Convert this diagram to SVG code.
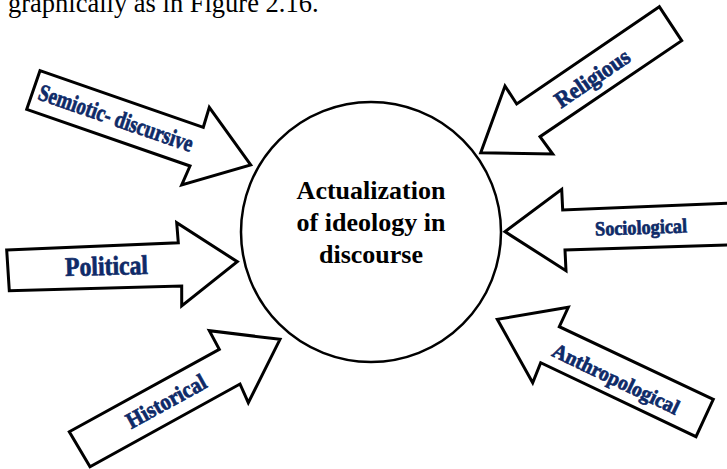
<svg xmlns="http://www.w3.org/2000/svg" width="727" height="469" viewBox="0 0 727 469">
  <style>
    .arrow { fill: #ffffff; stroke: #000000; stroke-width: 3; stroke-linejoin: miter; }
    .label { font-family: "Liberation Serif", "Times New Roman", serif; font-weight: bold; fill: #0e2a68; stroke: #0e2a68; stroke-width: 0.7; text-anchor: middle; }
    .core { font-family: "Liberation Serif", "Times New Roman", serif; font-weight: bold; font-size: 26px; fill: #000000; text-anchor: middle; }
    .body { font-family: "Liberation Serif", "Times New Roman", serif; font-size: 26.5px; fill: #000000; }
  </style>
  <rect width="727" height="469" fill="#ffffff"/>

  <!-- running text line above the figure -->
  <text class="body" x="8" y="12">graphically as in Figure 2.16.</text>

  <!-- arrows pointing at the central circle -->
  <g id="connectors">
    <g id="arrow-semiotic">
      <polygon class="arrow" points="40,70.7 203.3,127.3 209.3,107.3 250.7,165 181.7,185 190,166 26.7,109.3"/>
      <text class="label" font-size="24" textLength="162" lengthAdjust="spacingAndGlyphs" transform="translate(116,118) rotate(19.1)" y="8">Semiotic- discursive</text>
    </g>
    <g id="arrow-political">
      <polygon class="arrow" points="6.7,250 178.3,242.7 176.7,222.7 237.3,261.7 181.7,306 181.7,286 9.3,290.7"/>
      <text class="label" font-size="27" textLength="83" lengthAdjust="spacingAndGlyphs" transform="translate(106.5,266) rotate(-1.5)" y="9">Political</text>
    </g>
    <g id="arrow-historical">
      <polygon class="arrow" points="69.3,431.7 219.3,349.3 209.3,330.7 280,339.3 248.3,402.7 240,384 90,466.7"/>
      <text class="label" font-size="23" textLength="88" lengthAdjust="spacingAndGlyphs" transform="translate(166,401) rotate(-28.8)" y="8">Historical</text>
    </g>
    <g id="arrow-religious">
      <polygon class="arrow" points="659.3,6.7 516.7,104 505,86 480.7,152.7 552.7,154 540,136.7 681.7,40.7"/>
      <text class="label" font-size="23" textLength="86" lengthAdjust="spacingAndGlyphs" transform="translate(592,78) rotate(-34.3)" y="8">Religious</text>
    </g>
    <g id="arrow-sociological">
      <polygon class="arrow" points="740,202.8 562.7,210 561.7,189.3 505,231.7 566,270.7 565,250 740,244.5"/>
      <text class="label" font-size="20" textLength="92" lengthAdjust="spacingAndGlyphs" transform="translate(641,227) rotate(-2)" y="7">Sociological</text>
    </g>
    <g id="arrow-anthropological">
      <polygon class="arrow" points="713.3,399.3 559.3,326.7 568.3,307.3 497.3,319.3 532.7,382.7 540.7,362.7 696,436.7"/>
      <text class="label" font-size="21" textLength="138" lengthAdjust="spacingAndGlyphs" transform="translate(616,379) rotate(25.5)" y="7">Anthropological</text>
    </g>
  </g>

  <!-- central concept -->
  <g id="node-ideology">
    <circle cx="371" cy="232" r="130" fill="#ffffff" stroke="#000000" stroke-width="2.5"/>
    <text class="core" x="371" y="199">Actualization</text>
    <text class="core" x="371" y="231">of ideology in</text>
    <text class="core" x="371" y="263">discourse</text>
  </g>
</svg>
